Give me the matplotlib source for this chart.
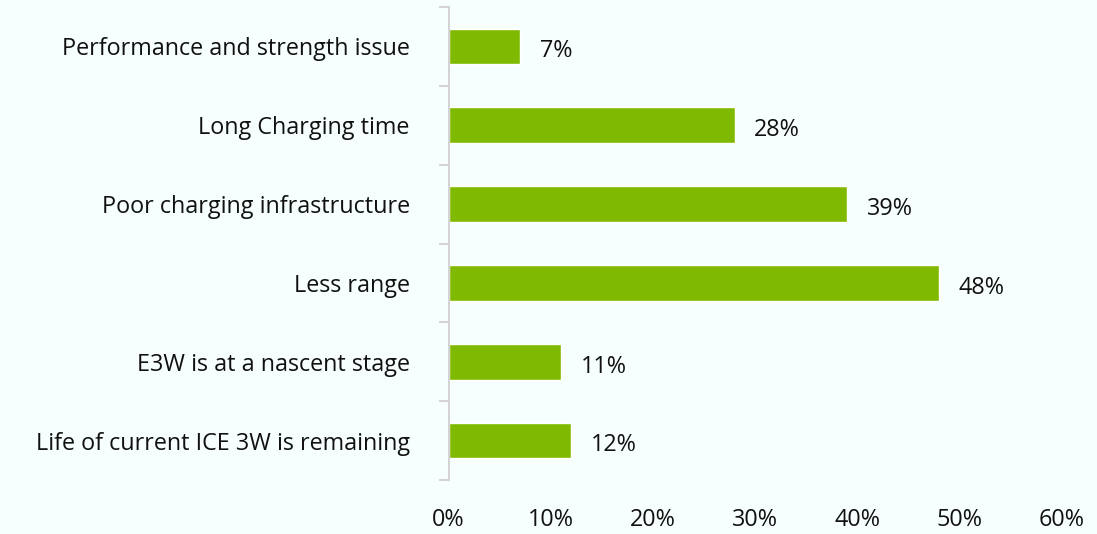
import numpy as np
import matplotlib.pyplot as plt

# barriers to adoption, top to bottom
reasons = [
    "Performance and strength issue",
    "Long Charging time",
    "Poor charging infrastructure",
    "Less range",
    "E3W is at a nascent stage",
    "Life of current ICE 3W is remaining",
]
shares = [7, 28, 39, 48, 11, 12]
xticks = [0, 10, 20, 30, 40, 50, 60]

bg = "#F7FFFE"
green = "#80BA00"
fs = 16.8

plt.rcParams['font.family'] = ['Open Sans', 'DejaVu Sans']

fig = plt.figure(figsize=(10.97, 5.34), dpi=100, facecolor=bg)
ax = fig.add_axes([0.409, 0.101, 0.559, 0.886], facecolor=bg)

y = np.arange(len(reasons))
ax.barh(y, shares, height=0.45, color=green, edgecolor="white", linewidth=1)

for yi, v in zip(y, shares):
    ax.text(v + 1.9, yi + 0.06, f"{v}%", va="center", ha="left", fontsize=fs, color="#111111")

ax.set_xlim(0, 60)
ax.set_ylim(len(reasons) - 0.5, -0.5)

ax.set_yticks(y)
ax.set_yticklabels(reasons, fontsize=fs, color="#111111")
ax.set_yticks(np.arange(len(reasons) + 1) - 0.5, minor=True)
ax.tick_params(axis="y", which="major", length=0, pad=28)
ax.tick_params(axis="y", which="minor", length=7, color="#D4D4D4", width=1.5)

ax.set_xticks(xticks)
ax.set_xticklabels([f"{t}%" for t in xticks], fontsize=fs, color="#111111")
ax.tick_params(axis="x", length=0, pad=20)

for s in ["top", "right", "bottom"]:
    ax.spines[s].set_visible(False)
ax.spines["left"].set_color("#D4D4D4")
ax.spines["left"].set_linewidth(1.5)

fig.savefig("out.png", dpi=100, facecolor=bg)
